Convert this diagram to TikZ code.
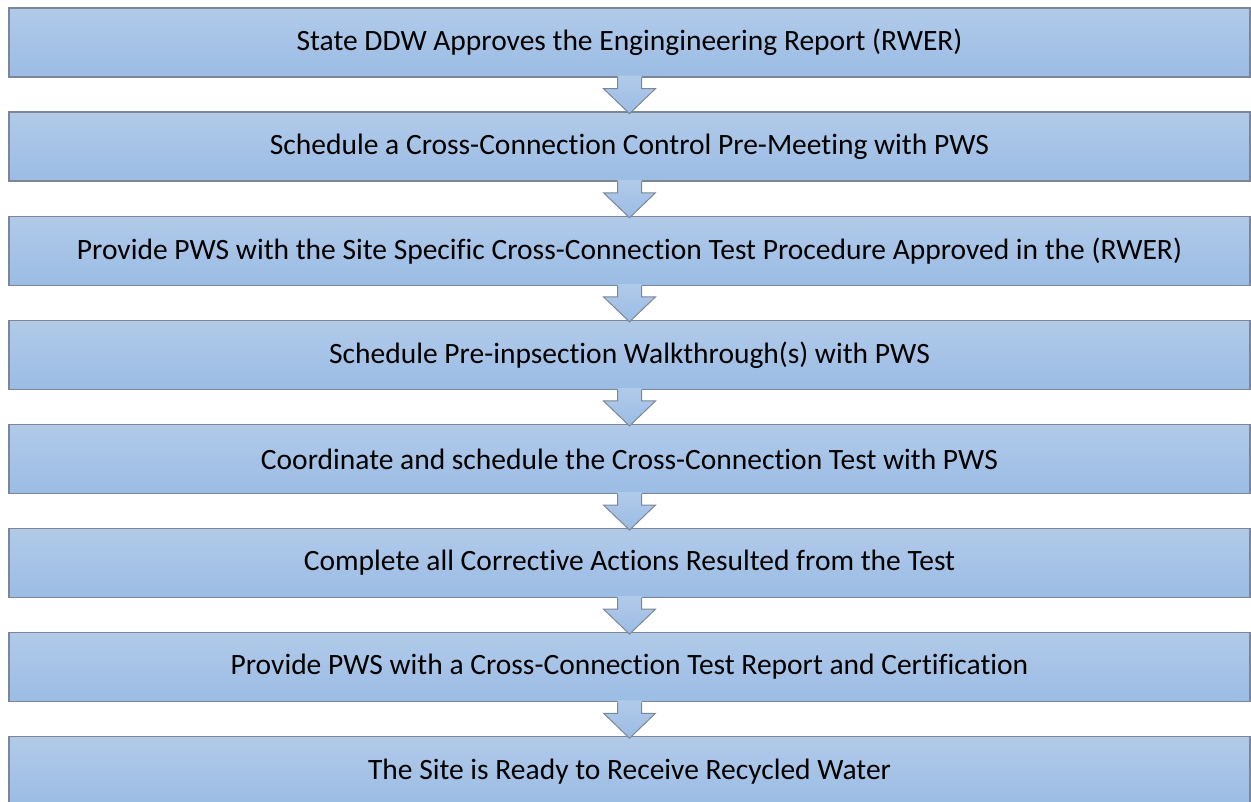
\documentclass[tikz,border=0pt]{standalone}
\usepackage{fontspec}
\setmainfont{Carlito}[Ligatures=NoCommon]
\usetikzlibrary{calc}
\definecolor{boxtop}{HTML}{B1CAE9}
\definecolor{boxbot}{HTML}{9BBCE4}
\definecolor{edgecol}{HTML}{7D8696}
\tikzset{
  stepbox/.style={minimum width=1241pt, minimum height=69pt, inner sep=0pt,
    top color=boxtop, bottom color=boxbot, draw=edgecol, line width=1.3pt,
    font=\fontsize{29.5}{34}\selectfont, text=black},
  arrowfill/.style={top color=boxtop, bottom color=boxbot},
  arrowline/.style={draw=edgecol, line width=1pt, line join=miter},
}
\begin{document}
\begin{tikzpicture}[x=1pt,y=-1pt]
\useasboundingbox (0,0) rectangle (1251,801);
\clip (0,0) rectangle (1251,801);
\foreach \i/\t in {
  1/{State DDW Approves the Engingineering Report (RWER)},
  2/{Schedule a Cross-Connection Control Pre-Meeting with PWS},
  3/{Provide PWS with the Site Specific Cross-Connection Test Procedure Approved in the (RWER)},
  4/{Schedule Pre-inpsection Walkthrough(s) with PWS},
  5/{Coordinate and schedule the Cross-Connection Test with PWS},
  6/{Complete all Corrective Actions Resulted from the Test},
  7/{Provide PWS with a Cross-Connection Test Report and Certification},
  8/{The Site is Ready to Receive Recycled Water}}
{
  \node[stepbox] (b\i) at (629.5, {42.5+104.1*(\i-1)}) {\t};
}
\foreach \i in {1,...,7}{
  \shade[arrowfill] ($(b\i.south)+(-12,-2)$) -- ($(b\i.south)+(-12,11)$) -- ($(b\i.south)+(-26,11)$)
    -- ($(b\i.south)+(0,36)$) -- ($(b\i.south)+(26,11)$) -- ($(b\i.south)+(12,11)$)
    -- ($(b\i.south)+(12,-2)$) -- cycle;
  \draw[arrowline] ($(b\i.south)+(-12,0)$) -- ($(b\i.south)+(-12,11)$) -- ($(b\i.south)+(-26,11)$)
    -- ($(b\i.south)+(0,36)$) -- ($(b\i.south)+(26,11)$) -- ($(b\i.south)+(12,11)$)
    -- ($(b\i.south)+(12,0)$);
}
\end{tikzpicture}
\end{document}
